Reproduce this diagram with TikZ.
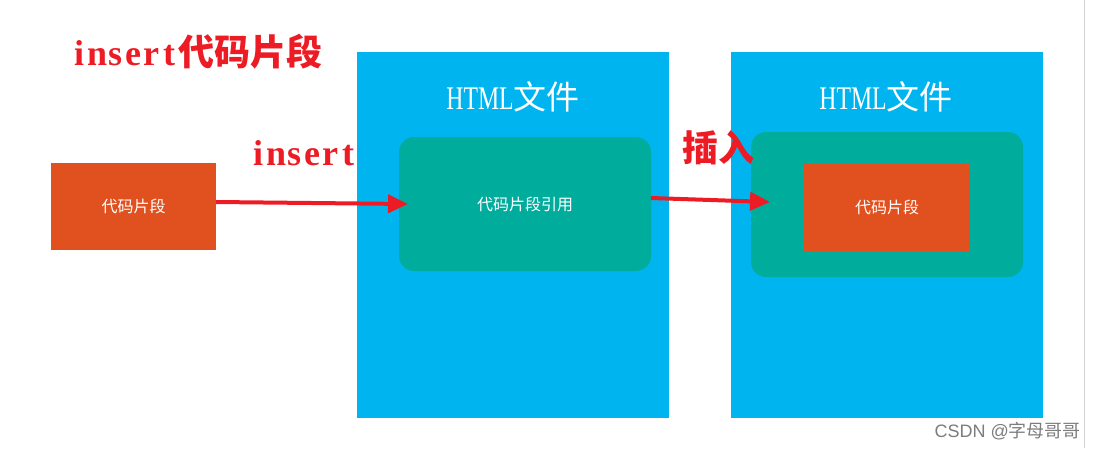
\documentclass[tikz,border=0pt]{standalone}
\usepackage{fontspec}
\usepackage{graphicx}
\setmainfont{Liberation Serif}
\setsansfont{Liberation Sans}
\newfontfamily\cjk{Noto Sans CJK SC}
\usetikzlibrary{arrows.meta}
\definecolor{panelblue}{RGB}{0,181,239}
\definecolor{tealbox}{RGB}{0,173,157}
\definecolor{codeorange}{RGB}{225,81,32}
\definecolor{markred}{RGB}{237,28,36}
\definecolor{wmgray}{RGB}{125,125,125}
\definecolor{rulegray}{RGB}{212,212,212}
\def\hw#1{\hwx#1\relax}
\def\hwx#1{\ifx#1\relax\else\makebox[0.5em]{#1}\expandafter\hwx\fi}
\tikzset{
  panel/.style={fill=panelblue, minimum width=312pt, minimum height=366pt, inner sep=0pt, draw=none},
  tealnode/.style={fill=tealbox, rounded corners=15pt, inner sep=0pt, draw=none, text=white, font=\cjk\fontsize{16pt}{18pt}\selectfont},
  codebox/.style={fill=codeorange, minimum width=165pt, minimum height=87pt, inner sep=0pt, text=white, font=\cjk\fontsize{16pt}{18pt}\selectfont},
  redlabel/.style={text=markred, inner sep=0pt, anchor=base west, font=\bfseries\fontsize{36pt}{40pt}\selectfont},
  paneltitle/.style={text=white, inner sep=0pt, font=\fontsize{33pt}{38pt}\selectfont},
  insertarrow/.style={draw=markred, line width=4pt, -{Triangle[length=20pt,width=18pt]}}
}
\begin{document}
\begin{tikzpicture}[x=1pt,y=-1pt]
\useasboundingbox (0,0) rectangle (1097,448);
\fill[white] (0,0) rectangle (1097,448);
\draw[rulegray, line width=1pt] (1084,0) coordinate (rtop) -- (1084,448) coordinate (rbot);
% title
\node[redlabel] (title) at (70,65) {\hw{insert}{\cjk\bfseries 代码片段}};
% panels
\node[panel] (p1) at (513,235) {};
\node[panel] (p2) at (887,235) {};
\node[paneltitle] (t1) at (513,97) {\makebox[66pt]{\scalebox{0.72}[1]{HTML}}{\cjk 文件}};
\node[paneltitle] (t2) at (886,97) {\makebox[66pt]{\scalebox{0.72}[1]{HTML}}{\cjk 文件}};
% teal boxes
\node[tealnode, minimum width=252pt, minimum height=134pt] (ref) at (525,204) {代码片段引用};
\node[tealnode, minimum width=272pt, minimum height=145pt] (host) at (887,204.5) {};
% code boxes
\node[codebox] (code1) at (133.5,206.5) {代码片段};
\node[codebox, minimum width=166pt, minimum height=88pt] (code2) at (887,207) {代码片段};
% labels
\node[redlabel] (lab1) at (249,165) {\hw{insert}};
\node[redlabel] (lab2) at (682,161) {\cjk 插入};
% arrows
\coordinate (a1s) at (216,202);
\coordinate (a1e) at (408,204);
\coordinate (a2s) at (651,198);
\coordinate (a2e) at (770,202);
\draw[insertarrow] (a1s) -- (a1e);
\draw[insertarrow] (a2s) -- (a2e);
% watermark
\node[text=wmgray, inner sep=0pt, anchor=base east, font=\sffamily\fontsize{18pt}{20pt}\selectfont] (wm) at (1081,437) {CSDN @{\cjk 字母哥哥}};
\end{tikzpicture}
\end{document}
